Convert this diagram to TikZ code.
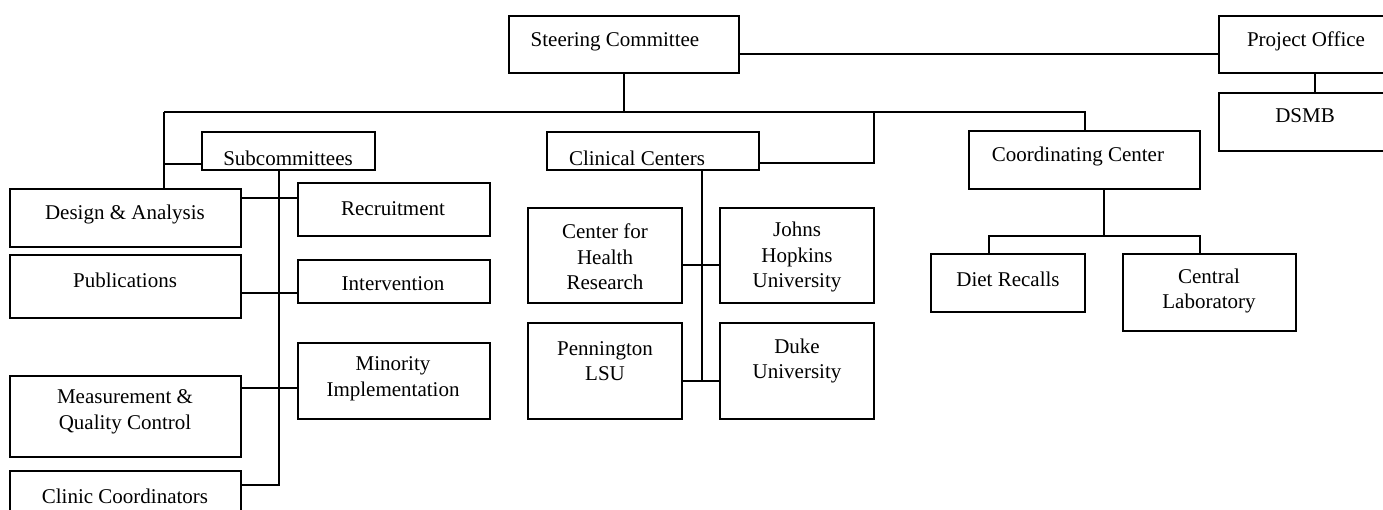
\documentclass[tikz,border=0pt]{standalone}
\usepackage{fontspec}
\setmainfont{Liberation Serif}
\usetikzlibrary{fit}
\tikzset{
  box/.style={draw, line width=1.6pt, inner sep=0pt},
  txt/.style={font=\fontsize{21}{25.5}\selectfont, align=center, inner sep=0pt},
  conn/.style={line width=1.6pt}
}
\newcommand\orgbox[5]{\node[box, fit={(#2,#3) (#4,#5)}] (#1) {};}
\begin{document}
\begin{tikzpicture}[x=1pt,y=-1pt]
\useasboundingbox (0,0) rectangle (1383,510);
\clip (0,0) rectangle (1383,510);

% boxes
\orgbox{steer}{509}{16}{739}{73}
\orgbox{proj}{1219}{16}{1394}{73}
\orgbox{dsmb}{1219}{93}{1394}{151}
\orgbox{sub}{202}{132}{375}{170}
\orgbox{clin}{547}{132}{759}{170}
\orgbox{coord}{969}{131}{1200}{189}
\orgbox{design}{10}{189}{241}{247}
\orgbox{recruit}{298}{183}{490}{236}
\orgbox{pub}{10}{255}{241}{318}
\orgbox{interv}{298}{260}{490}{303}
\orgbox{minor}{298}{343}{490}{419}
\orgbox{meas}{10}{376}{241}{457}
\orgbox{clinco}{10}{471}{241}{525}
\orgbox{chr}{528}{208}{682}{303}
\orgbox{jhu}{720}{208}{874}{303}
\orgbox{pen}{528}{323}{682}{419}
\orgbox{duke}{720}{323}{874}{419}
\orgbox{diet}{931}{254}{1085}{312}
\orgbox{lab}{1123}{254}{1296}{331}

% texts
\node[txt] (steer-t) at (615,42) {Steering Committee};
\node[txt] (proj-t) at (1306,41) {Project Office};
\node[txt] (dsmb-t) at (1305,116) {DSMB};
\begin{scope}
  \clip (202,132) rectangle (375,166.5);
  \node[txt] (sub-t) at (288,158) {Subcommittees};
\end{scope}
\begin{scope}
  \clip (547,132) rectangle (759,166.5);
  \node[txt] (clin-t) at (637,158) {Clinical Centers};
\end{scope}
\node[txt] (coord-t) at (1078,156) {Coordinating Center};
\node[txt] (design-t) at (125,214) {Design \& Analysis};
\node[txt] (recruit-t) at (393,209) {Recruitment};
\node[txt] (pub-t) at (125,280) {Publications};
\node[txt] (interv-t) at (393,284) {Intervention};
\node[txt] (minor-t) at (393,379) {Minority\\Implementation};
\node[txt] (meas-t) at (125,412) {Measurement \&\\Quality Control};
\node[txt] (clinco-t) at (125,496) {Clinic Coordinators};
\node[txt] (chr-t) at (605,257) {Center for\\Health\\Research};
\node[txt] (jhu-t) at (797,257) {Johns\\Hopkins\\University};
\node[txt] (pen-t) at (605,361) {Pennington\\LSU};
\node[txt] (duke-t) at (797,361) {Duke\\University};
\node[txt] (diet-t) at (1008,279) {Diet Recalls};
\node[txt] (lab-t) at (1209,291) {Central\\Laboratory};

% junction coordinates
\coordinate (busL) at (164,112);
\coordinate (busR) at (1085,112);
\coordinate (busC) at (874,112);
\coordinate (subJ) at (164,164);
\coordinate (subT) at (279,170);
\coordinate (subB) at (279,485);
\coordinate (yA) at (0,198);
\coordinate (yB) at (0,293);
\coordinate (yC) at (0,388);
\coordinate (clinJ) at (874,163);
\coordinate (clinT) at (702,170);
\coordinate (clinB) at (702,381);
\coordinate (yD) at (0,265);
\coordinate (coordT) at (1104,189);
\coordinate (coordJ) at (1104,236);
\coordinate (dietJ) at (989,236);
\coordinate (labJ) at (1200,236);
\coordinate (yE) at (0,54);
\coordinate (projB) at (1315,73);
\coordinate (dsmbT) at (1315,93);

% connectors
\draw[conn] (steer.south) -- (steer.south |- busL);
\draw[conn] (busL) -- (busR) -- (busR |- coord.north);
\draw[conn] (busL) -- (busL |- design.north);
\draw[conn] (subJ) -- (subJ -| sub.west);
\draw[conn] (subT) -- (subB) -- (subB -| clinco.east);
\draw[conn] (design.east |- yA) -- (recruit.west |- yA);
\draw[conn] (pub.east |- yB) -- (interv.west |- yB);
\draw[conn] (meas.east |- yC) -- (minor.west |- yC);
\draw[conn] (busC) -- (clinJ) -- (clinJ -| clin.east);
\draw[conn] (clinT) -- (clinB);
\draw[conn] (chr.east |- yD) -- (jhu.west |- yD);
\draw[conn] (pen.east |- clinB) -- (duke.west |- clinB);
\draw[conn] (coordT) -- (coordJ);
\draw[conn] (dietJ |- diet.north) -- (dietJ) -- (labJ) -- (labJ |- lab.north);
\draw[conn] (steer.east |- yE) -- (proj.west |- yE);
\draw[conn] (projB) -- (dsmbT);
\end{tikzpicture}
\end{document}
